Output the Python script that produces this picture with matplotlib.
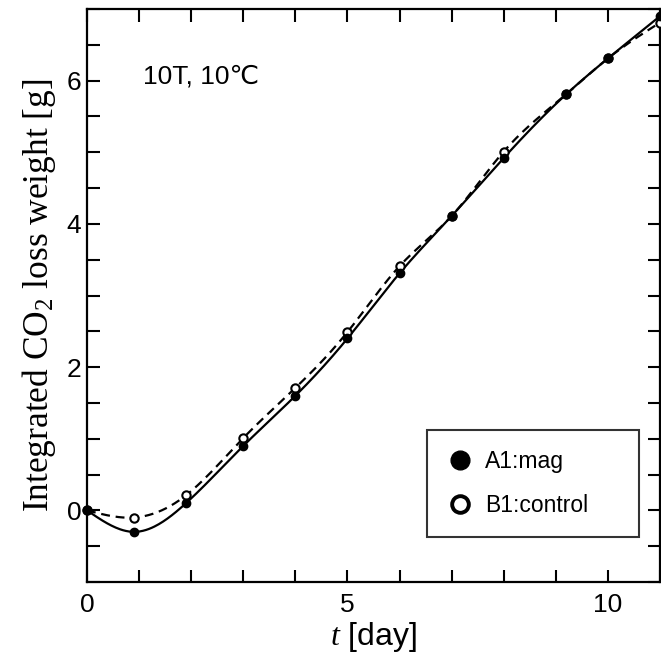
import numpy as np
import matplotlib
matplotlib.use("Agg")
import matplotlib.pyplot as plt
from matplotlib.ticker import MultipleLocator
from matplotlib.lines import Line2D

# data
t_mag = [0, 0.9, 1.9, 3, 4, 5, 6, 7, 8, 9.2, 10, 11]
w_mag = [0, -0.30, 0.10, 0.90, 1.60, 2.40, 3.31, 4.11, 4.92, 5.81, 6.31, 6.90]
t_ctl = [0, 0.9, 1.9, 3, 4, 5, 6, 7, 8, 9.2, 10, 11]
w_ctl = [0, -0.10, 0.21, 1.01, 1.71, 2.49, 3.41, 4.11, 5.01, 5.81, 6.31, 6.81]
xticks = [0, 5, 10]
yticks = [0, 2, 4, 6]


def natural_spline(x, y, n=400):
    x = np.asarray(x, float); y = np.asarray(y, float)
    m = len(x); h = np.diff(x)
    A = np.zeros((m, m)); b = np.zeros(m)
    A[0, 0] = A[-1, -1] = 1
    for i in range(1, m - 1):
        A[i, i - 1] = h[i - 1]; A[i, i] = 2 * (h[i - 1] + h[i]); A[i, i + 1] = h[i]
        b[i] = 3 * ((y[i + 1] - y[i]) / h[i] - (y[i] - y[i - 1]) / h[i - 1])
    c = np.linalg.solve(A, b)
    xs = np.linspace(x[0], x[-1], n)
    idx = np.clip(np.searchsorted(x, xs) - 1, 0, m - 2)
    dx = xs - x[idx]
    bb = (y[1:] - y[:-1]) / h - h * (2 * c[:-1] + c[1:]) / 3
    d = (c[1:] - c[:-1]) / (3 * h)
    ys = y[idx] + bb[idx] * dx + c[idx] * dx ** 2 + d[idx] * dx ** 3
    return xs, ys


plt.rcParams['font.family'] = ['Liberation Sans', 'DejaVu Sans']
plt.rcParams['mathtext.fontset'] = 'custom'
plt.rcParams['mathtext.it'] = 'Liberation Serif:italic'
plt.rcParams['mathtext.rm'] = 'Liberation Serif'

fig = plt.figure(figsize=(6.61, 6.61), dpi=100)
ax = fig.add_axes([87 / 661, 1 - 582 / 661, 573 / 661, 573 / 661])

xs, ys = natural_spline(t_mag, w_mag)
ax.plot(xs, ys, color='black', lw=1.6, clip_on=False, zorder=2)
xs, ys = natural_spline(t_ctl, w_ctl)
ax.plot(xs, ys, color='black', lw=1.6, ls=(0, (4, 2.6)), clip_on=False, zorder=2)

ax.plot(t_ctl, w_ctl, 'o', ms=6, mfc='white', mec='black', mew=1.5, clip_on=False, zorder=3)
ax.plot(t_mag, w_mag, 'o', ms=6, mfc='black', mec='black', clip_on=False, zorder=4)

ax.set_xlim(0, 11)
ax.set_ylim(-1, 7)
ax.set_xticks(xticks)
ax.set_yticks(yticks)
ax.xaxis.set_minor_locator(MultipleLocator(1))
ax.yaxis.set_minor_locator(MultipleLocator(0.5))
ax.tick_params(which='both', direction='in', top=True, right=True, length=9, width=1.5,
               labelsize=19)
ax.tick_params(axis='x', which='both', pad=8)
ax.tick_params(axis='y', which='both', pad=4)
for s in ax.spines.values():
    s.set_linewidth(1.6)

ax.set_ylabel('Integrated CO$_2$ loss weight [g]', family='Liberation Serif', fontsize=25.5, labelpad=6)
ax.set_xlabel(r'$t$ [day]', fontsize=23, labelpad=2)

ax.text(0.097, 0.87, '10T, 10\u2103', transform=ax.transAxes, fontsize=19,
        family=['Liberation Sans', 'DejaVu Sans', 'Noto Sans CJK JP'])

h1 = Line2D([], [], ls='none', marker='o', ms=13.5, mfc='black', mec='black')
h2 = Line2D([], [], ls='none', marker='o', ms=12, mfc='white', mec='black', mew=2.8)
leg = ax.legend([h1, h2], ['A1:mag', 'B1:control'], loc='center',
                bbox_to_anchor=(427 / 661, 1 - 540 / 661, (639 - 427) / 661, (540 - 427) / 661),
                bbox_transform=fig.transFigure, mode='expand',
                fontsize=16.5, frameon=True, fancybox=False, edgecolor='black',
                borderpad=0.85, labelspacing=0.95, handlelength=1.2, handletextpad=0.5,
                borderaxespad=0)
leg.get_frame().set_linewidth(1.5)
fig.savefig('out.png', dpi=100)
